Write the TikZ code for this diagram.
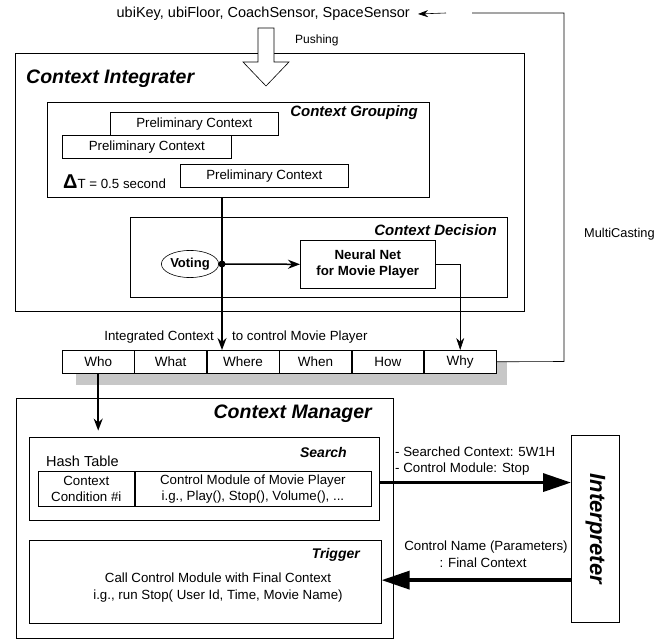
\documentclass[tikz,border=0pt]{standalone}
\usepackage{fontspec}
\setmainfont{Liberation Sans}
\usetikzlibrary{arrows.meta,calc,shapes.geometric}
\begin{document}
\begin{tikzpicture}[x=1pt,y=-1pt,
  frame/.style={draw, line width=0.6pt, inner sep=0pt, anchor=north west},
  wbox/.style={frame, fill=white},
  ttl/.style={font=\fontsize{19.5}{22}\selectfont\bfseries\itshape, inner sep=0pt},
  sub/.style={font=\fontsize{15}{17}\selectfont\bfseries\itshape, inner sep=0pt},
  txt/.style={font=\fontsize{13.3}{15.5}\selectfont, inner sep=0pt},
  cell/.style={wbox, minimum width=71.8pt, minimum height=23pt, font=\fontsize{13.5}{15}\selectfont},
  pcbox/.style={wbox, minimum width=168pt, minimum height=23pt, font=\fontsize{13.3}{15}\selectfont},
  thk/.style={line width=1.5pt, -{Stealth[length=12pt,width=9pt]}},
  fb/.style={line width=0.6pt},
  big/.style={line width=3.5pt, -{Triangle[length=28pt,width=18pt]}}
]
\useasboundingbox (0,0) rectangle (661,639);

% sensors and feedback
\node[txt, font=\fontsize{14.5}{16}\selectfont, anchor=east] (sens) at (410,14) {ubiKey, ubiFloor, CoachSensor, SpaceSensor};
\node[txt, font=\fontsize{12.8}{15}\selectfont, anchor=west] (mc) at (584,234) {MultiCasting};
\node[txt, font=\fontsize{12}{14}\selectfont, anchor=west] (push) at (295,40) {Pushing};

% Context Integrater
\node[frame, minimum width=509pt, minimum height=258pt] (ci) at (15,53) {};
\node[ttl, anchor=west] (citl) at (26,79) {Context Integrater};
\draw[fill=white, line width=0.6pt] (258,28) -- (274,28) -- (274,62) -- (289,62) -- (266,86) -- (243,62) -- (258,62) -- cycle;

% Context Grouping
\node[frame, minimum width=382pt, minimum height=95pt] (cg) at (47,102) {};
\node[sub, anchor=east] (cgtl) at (418,113) {Context Grouping};
\node[pcbox] (pc1) at (110,112) {Preliminary Context};
\node[pcbox, minimum width=169pt] (pc2) at (62,135) {Preliminary Context};
\node[pcbox] (pc3) at (180,164) {Preliminary Context};
\node[txt, anchor=west] (dt) at (63,182) {{\fontsize{20}{20}\selectfont\bfseries Δ}T = 0.5 second};

% Context Decision
\node[frame, minimum width=377pt, minimum height=80pt] (cd) at (130,217) {};
\node[sub, anchor=east] (cdtl) at (497,230) {Context Decision};
\node[draw, ellipse, line width=0.6pt, inner xsep=0.5pt, inner ysep=3.5pt, font=\fontsize{13}{15}\selectfont\bfseries] (vote) at (190,264) {Voting};
\node[frame, minimum width=135pt, minimum height=48pt, align=center, font=\fontsize{13.3}{15.5}\selectfont\bfseries] (nn) at (300,240) {Neural Net\\for Movie Player};
\coordinate (dot) at (222,264);

% 5W1H row
\fill[black!22] (76,362) rectangle (507,385);
\node[cell] (who) at (62,350) {Who};
\node[cell] (what) at (who.north east) {What};
\node[cell] (where) at (what.north east) {Where};
\node[cell] (when) at (where.north east) {When};
\node[cell] (how) at (when.north east) {How};
\node[cell] (why) at (how.north east) {Why};
\node[txt, anchor=east] (ic1) at (214,337) {Integrated Context};
\node[txt, anchor=west] (ic2) at (232,337) {to control Movie Player};

% connectors upper
\draw[thk] (dot |- cg.south) -- (dot |- where.north);
\fill (dot) circle (3.5pt);
\draw[thk] (dot) -- (nn.west);
\draw[line width=0.6pt, -{Stealth[length=12pt,width=8pt]}] (nn.east) -| (why.north);
\coordinate (fb2) at (564,361.5);
\coordinate (fb1) at (564,13);
\coordinate (fb0) at (472,13);
\coordinate (fbt) at (446,13);
\draw[fb] (why.east) -- (fb2) -- (fb1) -- (fb0);
\draw[fb, -{Stealth[length=10pt,width=7pt]}] (fbt) -- ($(sens.east)+(8,0)$);

% Context Manager
\node[frame, minimum width=377pt, minimum height=240pt] (cm) at (16,398) {};
\node[ttl, anchor=east] (cmtl) at (372,414) {Context Manager};
\draw[thk] (who.south) -- ++(0,57);

\node[frame, minimum width=350pt, minimum height=83pt] (search) at (29,437) {};
\node[sub, font=\fontsize{14}{16}\selectfont\bfseries\itshape, anchor=east] (srtl) at (347,452) {Search};
\node[txt, font=\fontsize{14.5}{16}\selectfont, anchor=west] (ht) at (46,461) {Hash Table};
\node[frame, minimum width=96pt, minimum height=35pt, align=center, font=\fontsize{13.3}{16}\selectfont] (t1) at (38,471) {Context\\Condition \#i};
\node[frame, minimum width=236pt, minimum height=35pt, align=center, font=\fontsize{13.3}{16}\selectfont] (t2) at (t1.north east) {Control Module of Movie Player\\i.g., Play(), Stop(), Volume(), ...};

\node[frame, minimum width=352pt, minimum height=83pt] (trig) at (29,540) {};
\node[sub, font=\fontsize{14}{16}\selectfont\bfseries\itshape, anchor=east] (trtl) at (360,555) {Trigger};
\node[txt, font=\fontsize{13.3}{17}\selectfont, align=center] (trtx) at (218,588) {Call Control Module with Final Context\\i.g., run Stop( User Id, Time, Movie Name)};

% Interpreter
\node[frame, minimum width=48pt, minimum height=187pt] (interp) at (571,435) {};
\node[ttl, font=\fontsize{22}{24}\selectfont\bfseries\itshape, rotate=-90] (intx) at (interp.center) {Interpreter};

\coordinate (sa) at ($(search.north east)!0.545!(search.south east)$);
\draw[big] (sa) -- (sa -| interp.west);
\coordinate (ta) at ($(trig.north east)!0.48!(trig.south east)$);
\draw[big] (ta -| interp.west) -- (ta);

\node[txt, anchor=west] (l1) at (395,452) {- Searched Context: 5W1H};
\node[txt, anchor=west] (l2) at (395,469) {- Control Module: Stop};
\node[txt] (l3) at (486,547) {Control Name (Parameters)};
\node[txt] (l4) at (483,563) {: Final Context};
\end{tikzpicture}
\end{document}
